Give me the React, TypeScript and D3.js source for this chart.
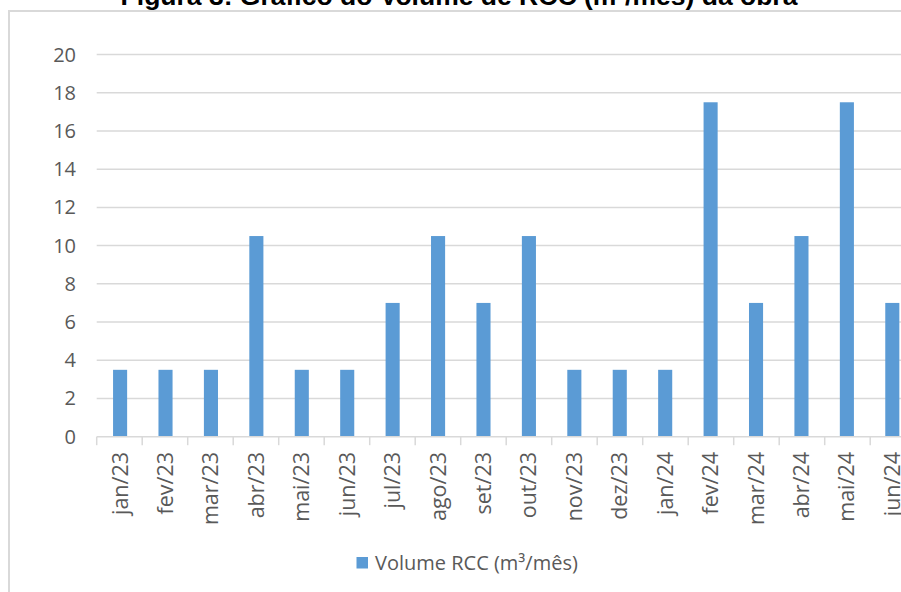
import { useEffect, useRef } from 'react';
import * as d3 from 'd3';

const MONTHS = [
  'jan/23', 'fev/23', 'mar/23', 'abr/23', 'mai/23', 'jun/23', 'jul/23', 'ago/23', 'set/23',
  'out/23', 'nov/23', 'dez/23', 'jan/24', 'fev/24', 'mar/24', 'abr/24', 'mai/24', 'jun/24',
];
const VOLUME = [3.5, 3.5, 3.5, 10.5, 3.5, 3.5, 7, 10.5, 7, 10.5, 3.5, 3.5, 3.5, 17.5, 7, 10.5, 17.5, 7];
const Y_TICKS = [0, 2, 4, 6, 8, 10, 12, 14, 16, 18, 20];

const TITLE = 'Figura 3: Gráfico do Volume de RCC (m³/mês) da obra';
const SERIES_NAME = 'Volume RCC (m³/mês)';
const BAR_COLOR = '#5b9bd5';
const TEXT_COLOR = '#595959';
const GRID_COLOR = '#d9d9d9';
const FONT = '"Open Sans", sans-serif';

export default function App() {
  const svgRef = useRef<SVGSVGElement>(null);

  useEffect(() => {
    if (!svgRef.current) return;
    const width = 901;
    const height = 592;

    const svg = d3.select(svgRef.current);
    svg.selectAll('*').remove();
    svg.attr('width', width).attr('height', height);

    // Title (mostly cropped off the top, as in the source)
    svg.append('text')
      .attr('x', 459).attr('y', 4.5)
      .attr('text-anchor', 'middle')
      .attr('font-family', '"Liberation Sans", Arial, sans-serif')
      .attr('font-weight', 'bold')
      .attr('font-size', '26.5px')
      .attr('fill', '#000')
      .text(TITLE);

    // Chart frame
    svg.append('rect')
      .attr('x', 9).attr('y', 11)
      .attr('width', 940).attr('height', 620)
      .attr('fill', 'none')
      .attr('stroke', GRID_COLOR)
      .attr('stroke-width', 2);

    const left = 96.7;
    const step = 45.5;
    const xScale = d3.scaleBand<string>()
      .domain(MONTHS)
      .range([left, left + step * MONTHS.length])
      .paddingInner(0.69)
      .paddingOuter(0.36);
    const yScale = d3.scaleLinear().domain([0, 20]).range([436.7, 54.5]);
    const right = left + step * MONTHS.length;

    // Grid
    svg.append('g')
      .selectAll('line')
      .data(Y_TICKS.filter(d => d > 0))
      .join('line')
      .attr('x1', left).attr('x2', right)
      .attr('y1', d => yScale(d)).attr('y2', d => yScale(d))
      .attr('stroke', GRID_COLOR)
      .attr('stroke-width', 1.5);

    // Y labels
    svg.append('g')
      .selectAll('text')
      .data(Y_TICKS)
      .join('text')
      .attr('x', 76).attr('y', d => yScale(d))
      .attr('dy', '0.35em')
      .attr('text-anchor', 'end')
      .attr('font-family', FONT)
      .attr('font-size', '20px')
      .attr('fill', TEXT_COLOR)
      .text(d => d);

    // Bars
    svg.append('g')
      .selectAll('rect')
      .data(MONTHS)
      .join('rect')
      .attr('x', d => xScale(d) ?? 0)
      .attr('width', xScale.bandwidth())
      .attr('y', (_, i) => yScale(VOLUME[i]))
      .attr('height', (_, i) => yScale(0) - yScale(VOLUME[i]))
      .attr('fill', BAR_COLOR);

    // X axis line + ticks at category boundaries
    svg.append('line')
      .attr('x1', left).attr('x2', right)
      .attr('y1', yScale(0)).attr('y2', yScale(0))
      .attr('stroke', GRID_COLOR)
      .attr('stroke-width', 1.5);

    svg.append('g')
      .selectAll('line')
      .data(d3.range(MONTHS.length + 1))
      .join('line')
      .attr('x1', i => left + i * step).attr('x2', i => left + i * step)
      .attr('y1', yScale(0)).attr('y2', yScale(0) + 8.5)
      .attr('stroke', GRID_COLOR)
      .attr('stroke-width', 1.5);

    // Category labels, rotated
    svg.append('g')
      .selectAll('text')
      .data(MONTHS)
      .join('text')
      .attr('transform', d => `translate(${(xScale(d) ?? 0) + xScale.bandwidth() / 2},452) rotate(-90)`)
      .attr('dy', '0.35em')
      .attr('text-anchor', 'end')
      .attr('font-family', FONT)
      .attr('font-size', '21.5px')
      .attr('fill', TEXT_COLOR)
      .text(d => d);

    // Legend
    const legend = svg.append('g').attr('transform', 'translate(356.5,557)');
    legend.append('rect')
      .attr('width', 11.5).attr('height', 11.5)
      .attr('fill', BAR_COLOR);
    legend.append('text')
      .attr('x', 18.5).attr('y', 5.5)
      .attr('dy', '0.35em')
      .attr('font-family', FONT)
      .attr('font-size', '20px')
      .attr('fill', TEXT_COLOR)
      .text(SERIES_NAME);
  }, []);

  return (
    <div style={{ position: 'absolute', left: 0, top: 0, width: 901, height: 592, overflow: 'hidden', background: '#fff' }}>
      <svg ref={svgRef} style={{ display: 'block' }} />
    </div>
  );
}
